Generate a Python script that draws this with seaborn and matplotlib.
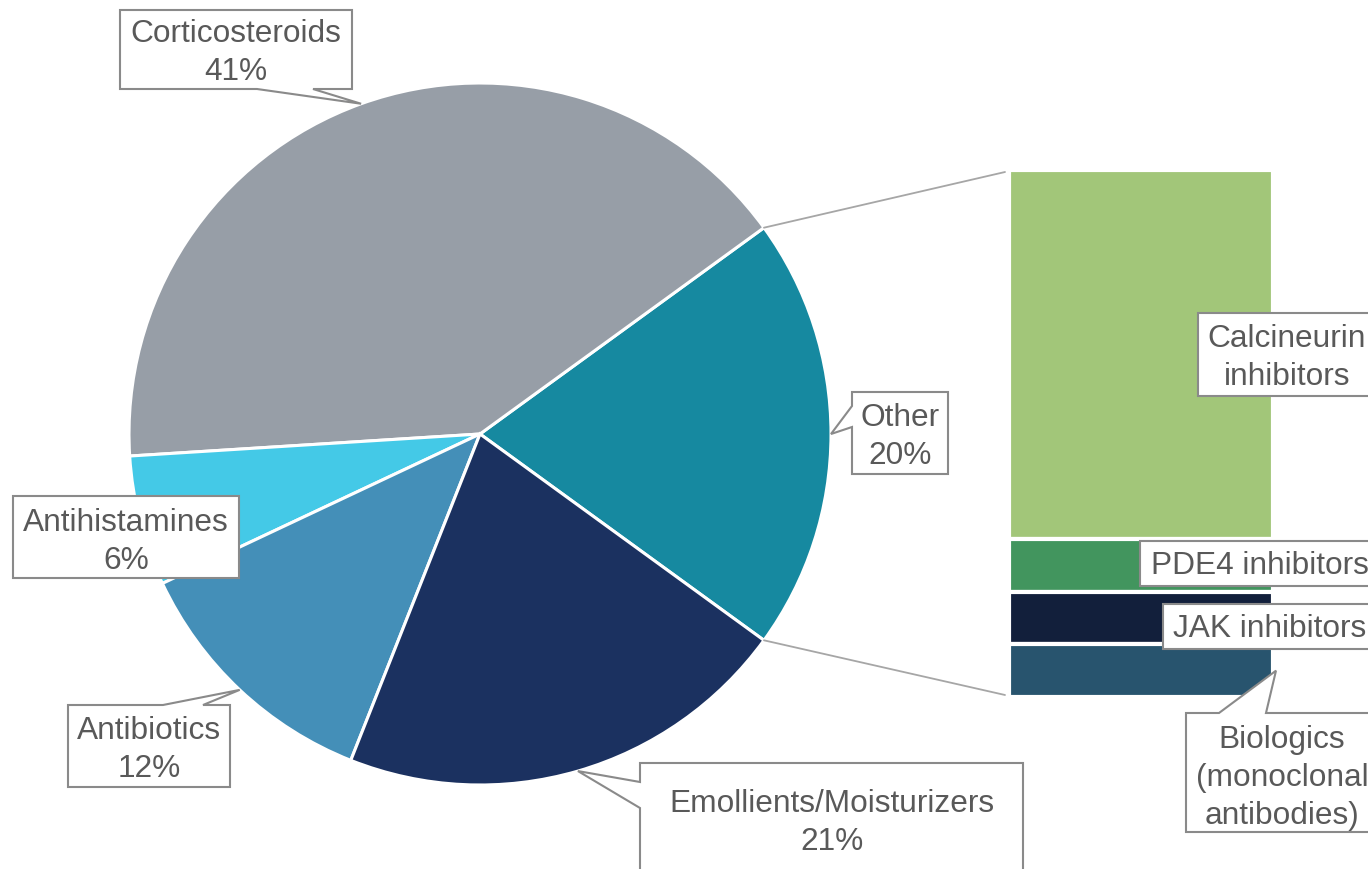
import numpy as np
import matplotlib
matplotlib.use("Agg")
import matplotlib.pyplot as plt
from matplotlib.patches import Polygon
import seaborn as sns

# ---- data -------------------------------------------------------------
pie_labels = ["Other", "Corticosteroids", "Antihistamines", "Antibiotics",
              "Emollients/Moisturizers"]
pie_values = [20, 41, 6, 12, 21]
pie_colors = ["#1689A0", "#979EA7", "#44C9E7", "#448FB8", "#1B3160"]

bar_labels = ["Calcineurin\ninhibitors", "PDE4 inhibitors", "JAK inhibitors",
              "Biologics\n(monoclonal\nantibodies)"]
bar_values = [14, 2, 2, 2]          # share of the "Other" slice, in %
bar_colors = ["#A2C679", "#42955E", "#121F3B", "#28546E"]

# ---- figure setup -----------------------------------------------------
sns.set_theme(style="white")
plt.rcParams["font.family"] = ["Liberation Sans", "DejaVu Sans"]

W, H = 1368, 869
fig = plt.figure(figsize=(W / 100, H / 100), dpi=100)
ax = fig.add_axes([0, 0, 1, 1])

TEXT = "#595959"
EDGE = "#8A8A8A"
FS = 22.8
LS = 1.36
TEXT_DY = 3   # baseline nudge for label text


def Y(y):
    """screen-style y (from top) to data y (from bottom)"""
    return H - y


# ---- pie --------------------------------------------------------------
cx, cy, R = 480, Y(434), 351
start = -pie_values[0] / 100 * 360 / 2
wedges, _ = ax.pie(pie_values, colors=pie_colors, startangle=start,
                   counterclock=True, center=(cx, cy), radius=R,
                   wedgeprops=dict(edgecolor="white", linewidth=2.2))

# ---- stacked bar for the "Other" slice ---------------------------------
bar_x, bar_w = 1141, 264
bar_top = Y(170)
px_per_pct = 527 / sum(bar_values)
tops = bar_top - np.concatenate([[0], np.cumsum(bar_values)[:-1]]) * px_per_pct
heights = np.array(bar_values) * px_per_pct
bars = ax.bar([bar_x] * len(bar_values), heights, bottom=tops - heights,
              width=bar_w, color=bar_colors, edgecolor="white", linewidth=3,
              zorder=2)

# connector lines from the "Other" slice to the bar
w_other = wedges[0]
left_x = bar_x - bar_w / 2 - 4
for ang, yend in [(w_other.theta2, Y(172)), (w_other.theta1, Y(695))]:
    px = cx + R * np.cos(np.radians(ang))
    py = cy + R * np.sin(np.radians(ang))
    ax.plot([px, left_x], [py, yend], color="#A6A6A6", lw=1.3, zorder=1)


# ---- callout labels ---------------------------------------------------
def callout(box, text, tcenter, side=None, base=None, tip=None):
    x0, y0, x1, y1 = box
    a = b = None
    if base is not None:
        a, b = base
    pts = [(x0, y0)]
    if side == "top":
        pts += [(a, y0), tip, (b, y0)]
    pts += [(x1, y0)]
    if side == "right":
        pts += [(x1, a), tip, (x1, b)]
    pts += [(x1, y1)]
    if side == "bottom":
        pts += [(b, y1), tip, (a, y1)]
    pts += [(x0, y1)]
    if side == "left":
        pts += [(x0, b), tip, (x0, a)]
    poly = Polygon([(x, Y(y)) for x, y in pts], closed=True, facecolor="white",
                   edgecolor=EDGE, linewidth=1.5, zorder=5)
    ax.add_patch(poly)
    ax.text(tcenter[0], Y(tcenter[1] + TEXT_DY), text, ha="center", va="center",
            fontsize=FS, color=TEXT, linespacing=LS, zorder=6)


def wedge_tip(w):
    mid = np.radians((w.theta1 + w.theta2) / 2)
    return (cx + R * np.cos(mid), Y(cy + R * np.sin(mid)))


pct = [f"{v}%" for v in pie_values]
w_o, w_c, w_ah, w_ab, w_e = wedges

callout((120, 10, 352, 89), f"{pie_labels[1]}\n{pct[1]}", (236, 50),
        "bottom", (257, 313), wedge_tip(w_c))
callout((852, 392, 948, 474), f"{pie_labels[0]}\n{pct[0]}", (900, 434),
        "left", (406, 427), wedge_tip(w_o))
callout((640, 763, 1023, 900), f"{pie_labels[4]}\n{pct[4]}", (832, 820),
        "left", (782, 808), wedge_tip(w_e))
callout((13, 496, 239, 578), f"{pie_labels[2]}\n{pct[2]}", (126, 539))
callout((68, 705, 230, 787), f"{pie_labels[3]}\n{pct[3]}", (149, 747),
        "top", (163, 203), wedge_tip(w_ab))

# bar labels
bio = bars[3]
bio_tip = (bio.get_x() + bio.get_width() + 3, Y(bio.get_y() + bio.get_height() / 2))
callout((1198, 313, 1380, 396), bar_labels[0], (1287, 355))
callout((1140, 541, 1380, 586), bar_labels[1], (1260, 563))
callout((1163, 604, 1380, 649), bar_labels[2], (1270, 626))
callout((1186, 713, 1380, 832), bar_labels[3], (1282, 775),
        "top", (1219, 1266), bio_tip)

ax.set_xlim(0, W)
ax.set_ylim(0, H)
ax.set_aspect("auto")
ax.axis("off")

fig.savefig("out.png", dpi=100, facecolor="white")
